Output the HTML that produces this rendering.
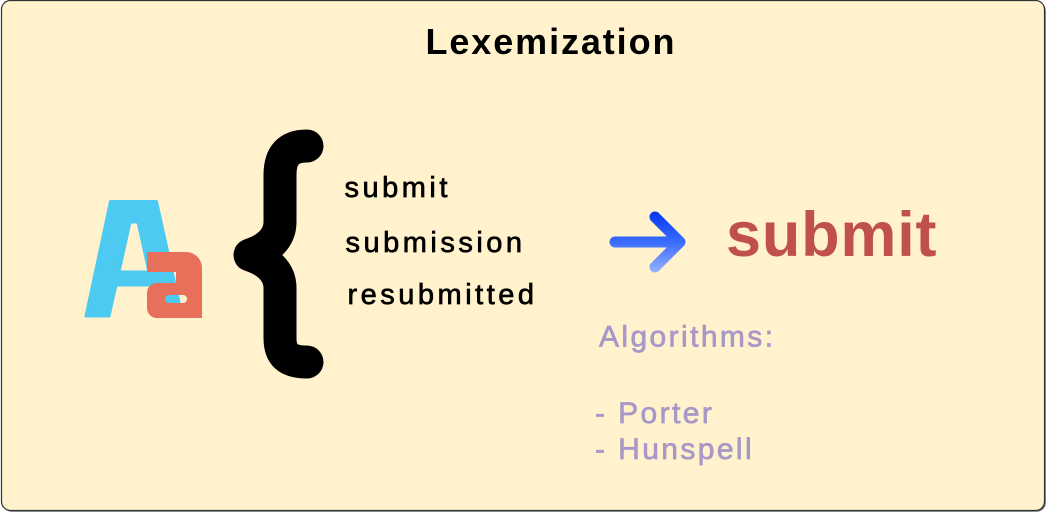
<!DOCTYPE html>
<html>
<head>
<meta charset="utf-8">
<style>
  html,body{margin:0;padding:0;background:#ffffff;overflow:hidden;}
  svg{display:block;}
  text{font-family:"Liberation Sans", Arial, sans-serif;}
</style>
</head>
<body>
<svg width="1047" height="513" viewBox="0 0 1047 513" xmlns="http://www.w3.org/2000/svg">
  <defs>
    <linearGradient id="ag" x1="0" y1="210" x2="0" y2="274" gradientUnits="userSpaceOnUse">
      <stop offset="0" stop-color="#0033f2"/>
      <stop offset="0.5" stop-color="#3a6cff"/>
      <stop offset="1" stop-color="#9cb6ff"/>
    </linearGradient>
  </defs>

  <!-- container with shadow -->
  <rect x="2.8" y="1.8" width="1043" height="510" rx="9" ry="9" fill="#6e6e6e"/>
  <rect x="1.5" y="0.5" width="1043" height="510" rx="9" ry="9" fill="#fff2cc" stroke="#333333" stroke-width="1.2"/>

  <!-- Title -->
  <text x="425.5" y="54" font-size="36" font-weight="bold" letter-spacing="1.9" fill="#000000">Lexemization</text>

  <!-- Aa icon -->
  <path d="M86,316 L110.5,201.5 L156.5,201.5 L182,316 L159,316 L152,285 L116,285 L109,316 Z M130,222 L138,222 L149,272 L119,272 Z"
        fill="#4ccaf1" fill-rule="evenodd" stroke="#4ccaf1" stroke-width="3" stroke-linejoin="round"/>
  <path d="M147,252 H186 A16,16 0 0 1 202,268 V318 H157 A10,10 0 0 1 147,308 V293 A10,10 0 0 1 157,283 H176 V272 H147 Z M169,295 A4,4 0 0 0 169,303 H183 A4,4 0 0 0 183,295 Z"
        fill="#e8705a" fill-rule="evenodd"/>

  <!-- Brace -->
  <path d="M307,146 C288,146 280,156 280,175 L280,222 C280,240 265,250 250,255 C265,260 280,270 280,288 L280,338 C280,355 288,362 307,362"
        fill="none" stroke="#000000" stroke-width="33" stroke-linecap="round" stroke-linejoin="round"/>

  <!-- word list -->
  <g fill="#000000" stroke="#000000" stroke-width="0.7" font-size="29" letter-spacing="3.5">
    <text x="344.5" y="197">submit</text>
    <text x="345.5" y="252">submission</text>
    <text x="347.5" y="304">resubmitted</text>
  </g>

  <!-- Arrow -->
  <g fill="none" stroke="url(#ag)" stroke-width="11" stroke-linecap="round" stroke-linejoin="round">
    <path d="M615,242 L679,242"/>
    <path d="M655,217 L680,242 L655,267"/>
  </g>

  <!-- Result -->
  <text x="726" y="256" font-size="63" font-weight="bold" letter-spacing="0.8" fill="#c0504d">submit</text>

  <!-- Algorithms -->
  <g fill="#a898c8" stroke="#a898c8" stroke-width="0.7" font-size="30" letter-spacing="2.4">
    <text x="599" y="346.5">Algorithms:</text>
    <text x="595" y="423">- Porter</text>
    <text x="595" y="459">- Hunspell</text>
  </g>
</svg>
</body>
</html>
